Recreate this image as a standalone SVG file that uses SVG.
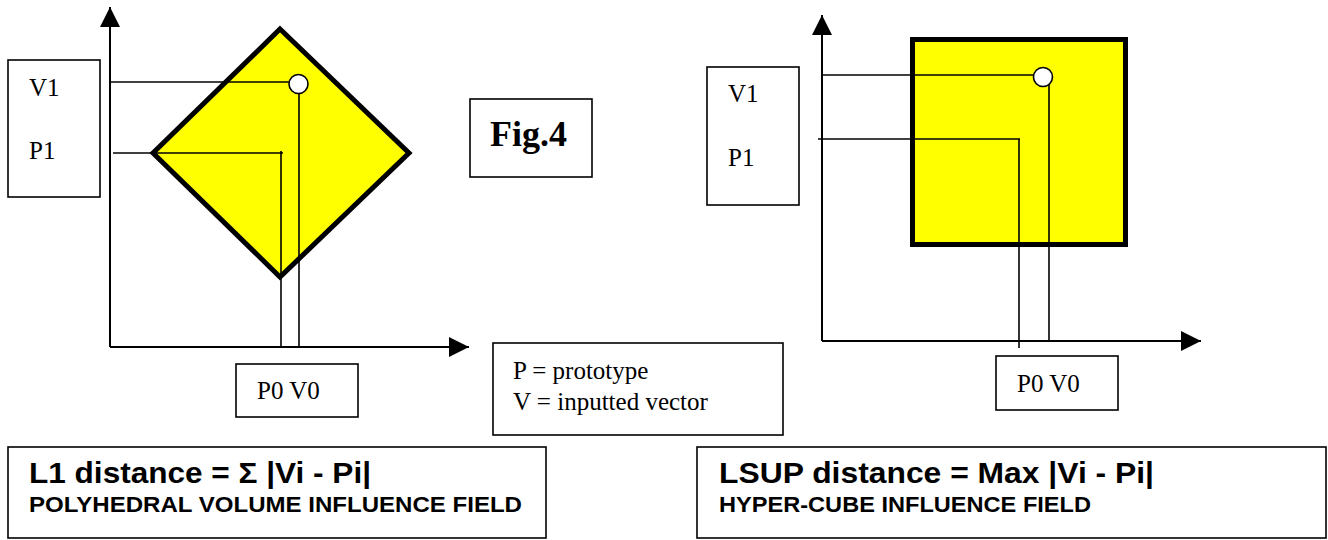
<svg xmlns="http://www.w3.org/2000/svg" width="1328" height="540" viewBox="0 0 1328 540">
<style>
.box{fill:#fff;stroke:#000;stroke-width:1.6}
.field{fill:#ffff00;stroke:#000;stroke-width:5;stroke-linejoin:miter}
.axis{fill:none;stroke:#000;stroke-width:2}
.guide{fill:none;stroke:#000;stroke-width:1.6}
.pt{fill:#fff;stroke:#000;stroke-width:1.6}
.serif{font-family:"Liberation Serif","Times New Roman",serif;font-size:25px;fill:#000}
.fig{font-family:"Liberation Serif","Times New Roman",serif;font-size:36px;font-weight:bold;fill:#000}
.big{font-family:"Liberation Sans",Arial,sans-serif;font-size:29px;font-weight:bold;fill:#000}
.small{font-family:"Liberation Sans",Arial,sans-serif;font-size:22px;font-weight:bold;fill:#000}
</style>
<defs>
<marker id="arr" markerUnits="userSpaceOnUse" markerWidth="20" markerHeight="20" refX="20" refY="10" orient="auto" viewBox="0 0 20 20">
<path d="M0,0 L20,10 L0,20 z" fill="#000"/>
</marker>
</defs>
<rect width="1328" height="540" fill="#fff"/>

<g id="left-field">
<polygon class="field" points="280,29 409,153 280,277 153,153"/>
</g>
<g id="right-field">
<rect class="field" x="912.5" y="39.5" width="213" height="205"/>
</g>

<g id="connectors">
<line class="axis" x1="110" y1="347" x2="110" y2="7" marker-end="url(#arr)"/>
<line class="axis" x1="110" y1="347" x2="469" y2="347" marker-end="url(#arr)"/>
<line class="guide" x1="110" y1="82" x2="290" y2="82"/>
<line class="guide" x1="299" y1="92" x2="299" y2="347"/>
<line class="guide" x1="113" y1="153" x2="283" y2="153"/>
<line class="guide" x1="281" y1="151" x2="281" y2="347"/>

<line class="axis" x1="822" y1="341" x2="822" y2="15" marker-end="url(#arr)"/>
<line class="axis" x1="822" y1="341" x2="1201" y2="341" marker-end="url(#arr)"/>
<line class="guide" x1="822" y1="75" x2="1034" y2="75"/>
<line class="guide" x1="1049" y1="84" x2="1049" y2="341"/>
<line class="guide" x1="818" y1="139" x2="1020" y2="139"/>
<line class="guide" x1="1019" y1="139" x2="1019" y2="348"/>
</g>

<g id="left-point">
<circle class="pt" cx="298.5" cy="84" r="9.5"/>
</g>
<g id="right-point">
<circle class="pt" cx="1043" cy="77" r="9.5"/>
</g>

<g id="left-y-labels">
<rect class="box" x="8" y="60" width="92" height="137"/>
<text class="serif" x="29" y="96">V1</text>
<text class="serif" x="29" y="159">P1</text>
</g>
<g id="left-x-labels">
<rect class="box" x="236" y="364" width="122" height="53"/>
<text class="serif" x="257" y="399">P0 V0</text>
</g>

<g id="fig-label">
<rect class="box" x="470" y="99" width="122" height="78"/>
<text class="fig" x="490" y="146">Fig.4</text>
</g>

<g id="legend">
<rect class="box" x="493" y="343" width="290" height="92"/>
<text class="serif" x="513" y="379">P = prototype</text>
<text class="serif" x="513" y="410">V = inputted vector</text>
</g>

<g id="right-y-labels">
<rect class="box" x="707" y="67" width="92" height="138"/>
<text class="serif" x="728" y="102">V1</text>
<text class="serif" x="728" y="166">P1</text>
</g>
<g id="right-x-labels">
<rect class="box" x="996" y="356" width="122" height="54"/>
<text class="serif" x="1017" y="392">P0 V0</text>
</g>

<g id="l1-caption">
<rect class="box" x="8" y="447" width="538" height="91"/>
<text class="big" x="29" y="483" textLength="342" lengthAdjust="spacingAndGlyphs">L1 distance = Σ |Vi - Pi|</text>
<text class="small" x="29" y="512" textLength="493" lengthAdjust="spacingAndGlyphs">POLYHEDRAL VOLUME INFLUENCE FIELD</text>
</g>
<g id="lsup-caption">
<rect class="box" x="697" y="447" width="629" height="91"/>
<text class="big" x="719" y="483" textLength="435" lengthAdjust="spacingAndGlyphs">LSUP distance = Max |Vi - Pi|</text>
<text class="small" x="719" y="512" textLength="372" lengthAdjust="spacingAndGlyphs">HYPER-CUBE INFLUENCE FIELD</text>
</g>
</svg>
